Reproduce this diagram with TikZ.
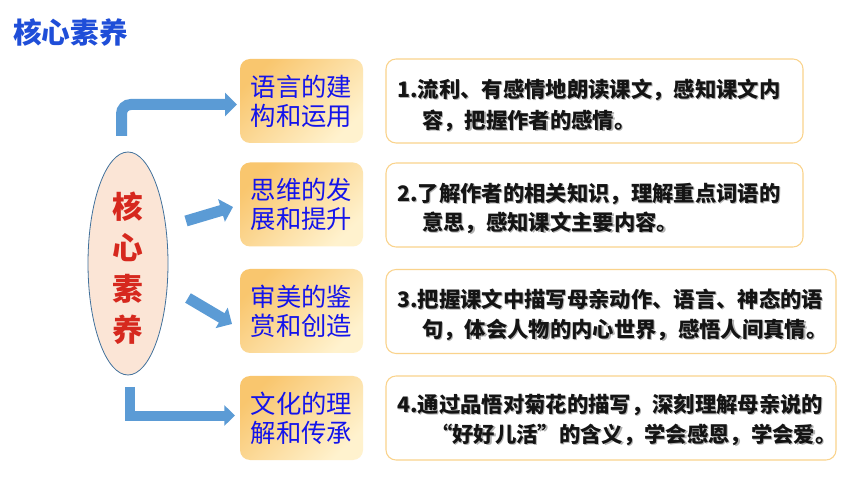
\documentclass[tikz,border=0pt]{standalone}
\usepackage{fontspec}
\newfontfamily\cjk{Noto Sans CJK SC}
\usetikzlibrary{shapes.geometric,arrows.meta,calc}
\definecolor{titleblue}{RGB}{31,78,216}
\definecolor{boxblue}{RGB}{20,20,235}
\definecolor{ellred}{RGB}{214,40,30}
\definecolor{ellfill}{RGB}{251,229,214}
\definecolor{ellline}{RGB}{65,113,156}
\definecolor{arrblue}{RGB}{91,155,213}
\definecolor{boxorange}{RGB}{249,198,110}
\definecolor{boxcream}{RGB}{255,242,206}
\definecolor{descborder}{RGB}{250,211,140}
\newcommand\mydl[4]{%
  \node[dshadow,#3] at ([shift={(1.2,1.2)}]#2) {#4};
  \node[dtext,#3] (#1) at (#2) {#4};}
\begin{document}
\begin{tikzpicture}[x=0.75pt,y=-0.75pt,
  midbox/.style={rounded corners=7.5pt, minimum width=92.25pt, minimum height=63pt,
    inner sep=0pt, top color=boxorange, bottom color=boxcream, shading angle=45,
    text=boxblue, font=\cjk\fontsize{19}{21.75}\selectfont, align=center},
  descbox/.style={draw=descborder, line width=0.8pt, fill=white, rounded corners=7.5pt,
    minimum height=63pt, inner sep=0pt},
  dtext/.style={anchor=west, inner sep=0pt, text=black!92, font=\cjk\bfseries\fontsize{16}{18}\selectfont},
  dshadow/.style={dtext, text=black!30},
  blockarrow/.style={draw=arrblue, line width=8.25pt,
    -{Triangle[width=17.25pt,length=9pt]}}
]
\useasboundingbox[fill=white] (0,0) rectangle (860,484);

% title
\node[anchor=west, inner sep=0pt, text=titleblue,
  font=\cjk\bfseries\fontsize{21.5}{24}\selectfont] (title) at (13,32) {核心素养};

% core ellipse
\node[ellipse, draw=ellline, line width=0.6pt, fill=ellfill, minimum width=60pt,
  minimum height=167.25pt, inner sep=0pt] (core) at (128,263.5) {};
\node[text=ellred, align=center, inner sep=0pt,
  font=\cjk\bfseries\fontsize{23}{30.75}\selectfont] (coretext) at (128,268) {核\\心\\素\\养};

% middle boxes
\node[midbox] (m1) at (301.5,101) {语言的建\\构和运用};
\node[midbox] (m2) at (301.5,204.5) {思维的发\\展和提升};
\node[midbox] (m3) at (301.5,311) {审美的鉴\\赏和创造};
\node[midbox] (m4) at (301.5,418) {文化的理\\解和传承};

% right boxes
\node[descbox, minimum width=312.75pt] (r1) at (594.5,101) {};
\node[descbox, minimum width=312.75pt] (r2) at (594.5,205) {};
\node[descbox, minimum width=337.5pt] (r3) at (611,311.5) {};
\node[descbox, minimum width=337.5pt] (r4) at (611,418) {};

\mydl{t1a}{397,90}{}{1.流利、有感情地朗读课文，感知课文内}
\mydl{t1b}{422,121}{}{容，把握作者的感情。}
\mydl{t2a}{397,194}{}{2.了解作者的相关知识，理解重点词语的}
\mydl{t2b}{422,223}{}{意思，感知课文主要内容。}
\mydl{t3a}{397,299}{}{3.把握课文中描写母亲动作、语言、神态的语}
\mydl{t3b}{422,330}{}{句，体会人物的内心世界，感悟人间真情。}
\mydl{t4a}{397,405}{}{4.通过品悟对菊花的描写，深刻理解母亲说的}
\mydl{t4b}{431,435}{}{“好好儿活”的含义，学会感恩，学会爱。}

% arrows
\coordinate (a1s) at (121.5,136);
\coordinate (a1e) at (237,104.5);
\coordinate (a2s) at (186,221);
\coordinate (a2e) at (233,207);
\coordinate (a3s) at (188,298);
\coordinate (a3e) at (232,324);
\coordinate (a4s) at (130,387);
\coordinate (a4e) at (235,415.5);
\draw[blockarrow, rounded corners=7pt] (a1s) |- (a1e);
\draw[blockarrow] (a2s) -- (a2e);
\draw[blockarrow] (a3s) -- (a3e);
\draw[blockarrow, line width=7.5pt, line join=miter,
  -{Triangle[width=15pt,length=8pt]}] (a4s) |- (a4e);
\end{tikzpicture}
\end{document}
